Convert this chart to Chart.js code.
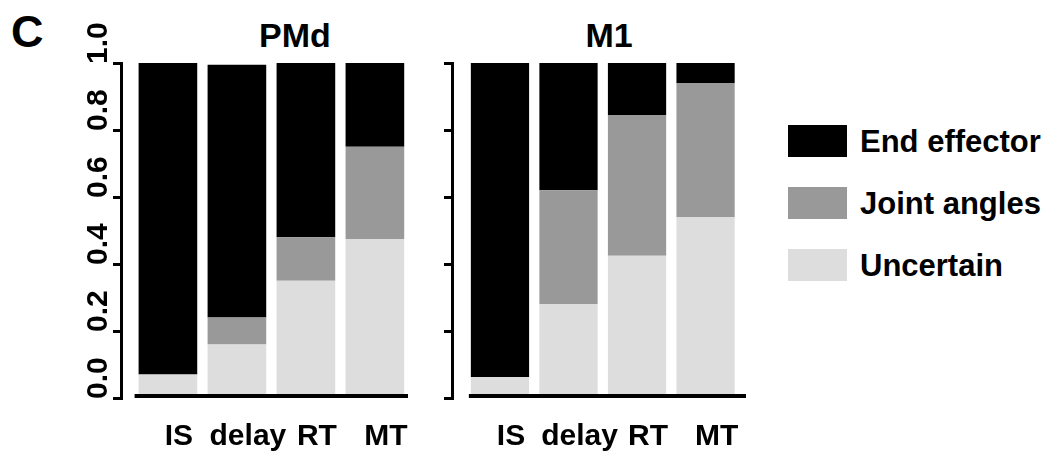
<!DOCTYPE html>
<html lang="en">
<head>
<meta charset="UTF-8">
<title>PMd / M1 decoding</title>
<script src="https://cdn.jsdelivr.net/npm/chart.js"></script>
<style>
  body { margin: 0; background: #fff; }
  #wrap { position: relative; width: 1050px; height: 455px; overflow: hidden;
          font-family: "Liberation Sans", Arial, sans-serif; font-weight: bold; color: #000; }
  canvas { position: absolute; top: 0; }
  .txt { position: absolute; line-height: 1; white-space: nowrap; }
  .title { font-size: 34px; width: 200px; text-align: center; top: 18px; }
  #legend { position: absolute; left: 788px; top: 110px; }
  .row { display: flex; align-items: center; height: 62px; }
  .box { width: 59px; height: 32px; margin-right: 13px; }
  .row span { font-size: 31px; line-height: 1; }
</style>
</head>
<body>
<div id="wrap">
  <div class="txt" style="left:11px; top:9px; font-size:45px;">C</div>
  <div class="txt title" style="left:195px;">PMd</div>
  <div class="txt title" style="left:509px;">M1</div>
  <canvas id="pmdChart" width="430" height="455" style="left:0px"></canvas>
  <canvas id="m1Chart" width="330" height="455" style="left:430px"></canvas>
  <div id="legend"></div>
</div>

<script>
// data
const categories = ['IS', 'delay', 'RT', 'MT'];
const seriesNames = ['End effector', 'Joint angles', 'Uncertain'];
const seriesColors = ['#000000', '#999999', '#dddddd'];

const pmdEndEffector = [0.93, 0.755, 0.52, 0.25];
const pmdJointAngles = [0, 0.08, 0.13, 0.275];
const pmdUncertain   = [0.07, 0.16, 0.35, 0.475];

const m1EndEffector = [0.937, 0.38, 0.155, 0.06];
const m1JointAngles = [0, 0.34, 0.42, 0.40];
const m1Uncertain   = [0.063, 0.28, 0.425, 0.54];

const yTickLabels = ['0.0', '0.2', '0.4', '0.6', '0.8', '1.0'];

const FONT = '"Liberation Sans", Arial, sans-serif';

// baseline under the bars + rotated y tick labels
const axisExtras = {
  id: 'axisExtras',
  afterDatasetsDraw(chart, args, opts) {
    const { ctx, chartArea, scales: { y } } = chart;
    const bar = chart.getDatasetMeta(0).data[0];
    const base = y.getPixelForValue(0) - 2;
    ctx.save();
    ctx.strokeStyle = '#000';
    ctx.lineWidth = 4;
    ctx.beginPath();
    ctx.moveTo(bar.x - bar.width / 2 - opts.gap, base);
    ctx.lineTo(chartArea.right, base);
    ctx.stroke();
    if (opts.yLabels) {
      ctx.font = 'bold 30px ' + FONT;
      ctx.fillStyle = '#000';
      ctx.textAlign = 'left';
      ctx.textBaseline = 'middle';
      y.ticks.forEach((t, i) => {
        ctx.save();
        ctx.translate(chartArea.left - 22, y.getPixelForValue(t.value) + 1);
        ctx.rotate(-Math.PI / 2);
        ctx.fillText(yTickLabels[i], 0, 0);
        ctx.restore();
      });
    }
    ctx.restore();
  }
};

function makeChart(id, uncertain, joint, endEff, o) {
  const pts = arr => arr.map((v, i) => ({ x: i + 1, y: v }));
  // stacked bottom -> top: uncertain, joint angles, end effector
  const sets = [[uncertain, 2], [joint, 1], [endEff, 0]].map(([arr, k]) => ({
    label: seriesNames[k],
    data: pts(arr),
    backgroundColor: seriesColors[k],
    borderWidth: 0,
    barPercentage: 0.85,
    categoryPercentage: 1
  }));

  return new Chart(document.getElementById(id), {
    type: 'bar',
    data: { datasets: sets },
    plugins: [axisExtras],
    options: {
      responsive: false,
      animation: false,
      devicePixelRatio: 1,
      layout: { padding: { left: o.padLeft, right: o.padRight, top: 63, bottom: 0 } },
      plugins: {
        legend: { display: false },
        tooltip: { enabled: false },
        axisExtras: { gap: o.gap, yLabels: o.yLabels }
      },
      scales: {
        x: {
          type: 'linear',
          stacked: true,
          offset: false,
          min: o.xMin,
          max: o.xMax,
          grid: { display: false },
          border: { display: false },
          afterFit: s => { s.height = 57; s.paddingLeft = 0; s.paddingRight = 0; },
          ticks: {
            stepSize: 1,
            includeBounds: false,
            autoSkip: false,
            minRotation: 0,
            maxRotation: 0,
            labelOffset: 11,
            padding: 13,
            color: '#000',
            font: { family: FONT, size: 30, weight: 'bold' },
            callback: v => categories[v - 1] || ''
          }
        },
        y: {
          stacked: true,
          min: 0,
          max: 1,
          afterFit: s => { s.width = 10; },
          ticks: { stepSize: 0.2, display: false },
          grid: { drawOnChartArea: false, drawTicks: true, tickLength: 8, color: '#000', lineWidth: 3 },
          border: { display: true, color: '#000', width: 3 }
        }
      }
    }
  });
}

makeChart('pmdChart', pmdUncertain, pmdJointAngles, pmdEndEffector,
  { padLeft: 111, padRight: 22, xMin: 0.32, xMax: 4.48, gap: 4, yLabels: true });
makeChart('m1Chart', m1Uncertain, m1JointAngles, m1EndEffector,
  { padLeft: 12, padRight: 14, xMin: 0.3, xMax: 4.59, gap: 2, yLabels: false });

// legend, top to bottom
const legend = document.getElementById('legend');
seriesNames.forEach((name, i) => {
  const row = document.createElement('div');
  row.className = 'row';
  row.innerHTML = '<div class="box" style="background:' + seriesColors[i] + '"></div><span>' + name + '</span>';
  legend.appendChild(row);
});
</script>
</body>
</html>
